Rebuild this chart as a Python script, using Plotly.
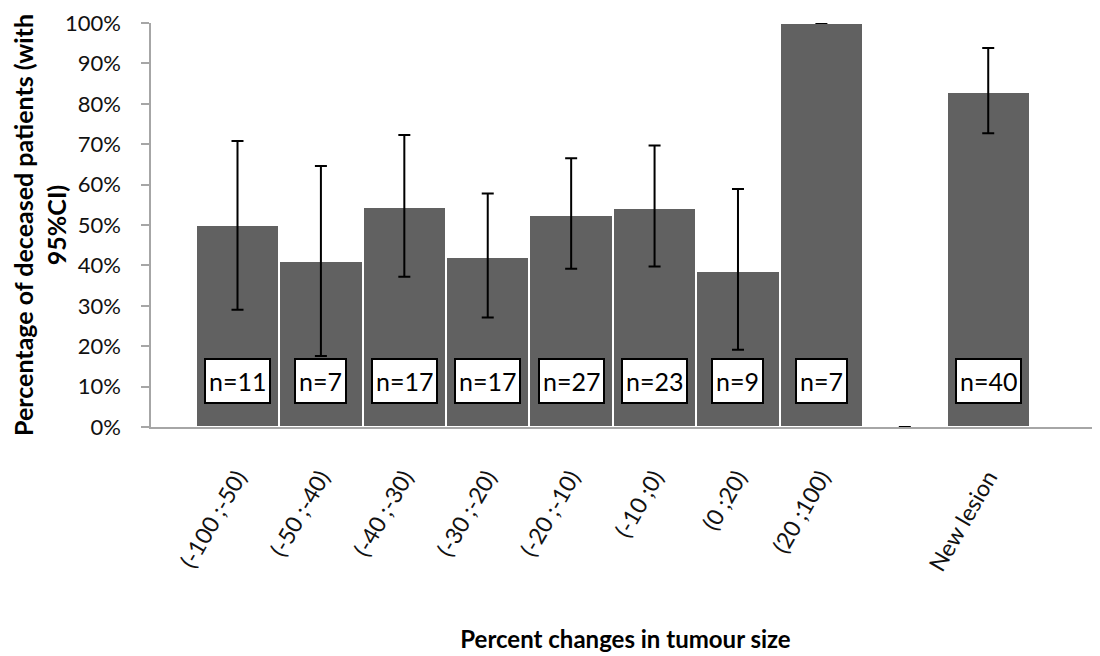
import plotly.graph_objects as go

categories = ["(-100 ;-50)", "(-50 ;-40)", "(-40 ;-30)", "(-30 ;-20)", "(-20 ;-10)",
              "(-10 ;0)", "(0 ;20)", "(20 ;100)", "", "New lesion"]
pct_deceased = [50, 41, 54.5, 42.2, 52.5, 54.3, 38.7, 100, 0, 83]
ci_upper = [70.8, 64.6, 72.3, 57.8, 66.5, 69.7, 58.9, 100, 0, 93.8]
ci_lower = [29.0, 17.6, 37.2, 27.1, 39.2, 39.7, 19.1, 100, 0, 72.7]
n_labels = ["n=11", "n=7", "n=17", "n=17", "n=27", "n=23", "n=9", "n=7", "", "n=40"]
y_ticks = [0, 10, 20, 30, 40, 50, 60, 70, 80, 90, 100]

xpos = list(range(len(categories)))
err_plus = [u - v for u, v in zip(ci_upper, pct_deceased)]
err_minus = [v - l for v, l in zip(pct_deceased, ci_lower)]

FONT = "Lato"

fig = go.Figure()
fig.add_trace(go.Bar(
    x=xpos, y=pct_deceased,
    width=1.0,
    marker=dict(color="#616161", line=dict(color="#ffffff", width=2)),
    error_y=dict(type="data", array=err_plus, arrayminus=err_minus,
                 symmetric=False, color="#000000", thickness=2, width=6),
    showlegend=False,
))

for xi, lab in zip(xpos, n_labels):
    if lab:
        fig.add_annotation(x=xi, y=11.5, text=lab, showarrow=False,
                           font=dict(family=FONT, size=25, color="#000000"),
                           bgcolor="#ffffff", bordercolor="#000000",
                           borderwidth=2, borderpad=3, height=36)

fig.update_layout(
    width=1092, height=648,
    margin=dict(l=143, r=0, t=15, b=229),
    plot_bgcolor="#ffffff", paper_bgcolor="#ffffff",
    bargap=0,
    font=dict(family=FONT, color="#111111"),
)
fig.update_xaxes(
    range=[-1.037, 10.34],
    tickmode="array", tickvals=xpos, ticktext=categories,
    tickangle=-60,
    tickfont=dict(family=FONT, size=23, color="#111111"),
    ticklabelstandoff=26,
    showline=True, linecolor="#a6a6a6", linewidth=1.5,
    showgrid=False, zeroline=False, ticks="",
    automargin=False,
    title=dict(text="Percent changes in tumour size",
               font=dict(family=FONT, size=24, weight="bold", color="#000000"),
               standoff=56),
)
fig.update_yaxes(
    range=[0, 100],
    tickmode="array", tickvals=y_ticks, ticktext=[f"{v}%" for v in y_ticks],
    tickfont=dict(family=FONT, size=22, color="#111111"),
    ticklabelstandoff=16,
    showline=True, linecolor="#a6a6a6", linewidth=1.5,
    ticks="outside", ticklen=8, tickcolor="#a6a6a6", tickwidth=1.5,
    showgrid=False, zeroline=False,
    automargin=False,
    title=dict(text="Percentage of deceased patients (with<br>95%CI)",
               font=dict(family=FONT, size=25, weight="bold", color="#000000"),
               standoff=4),
)

fig.write_html("out.html")
